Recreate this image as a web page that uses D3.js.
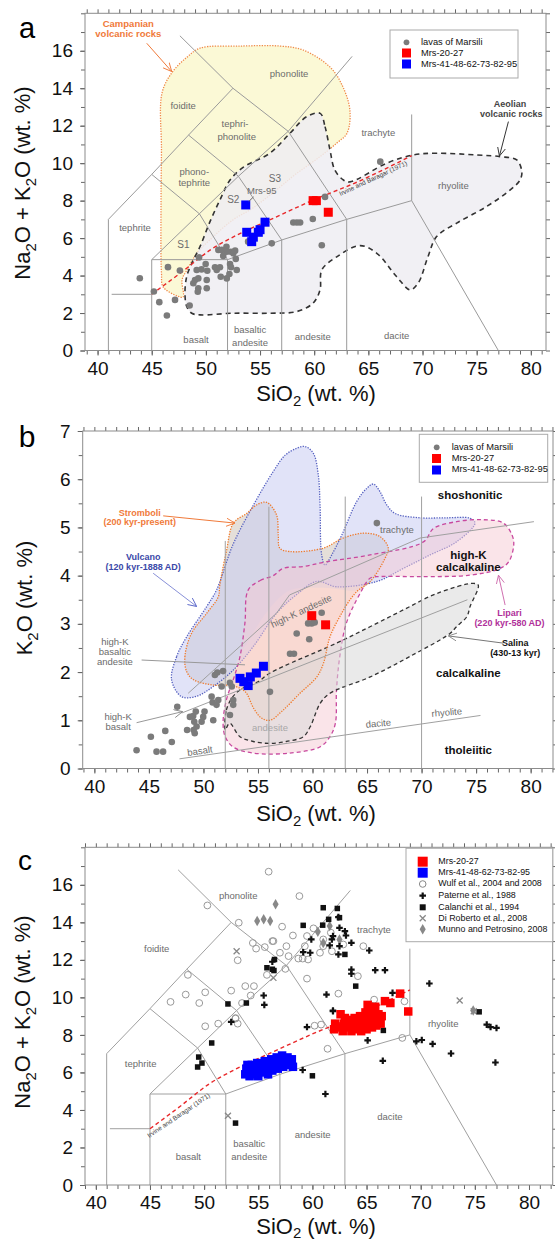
<!DOCTYPE html>
<html><head><meta charset="utf-8">
<script src="https://cdn.jsdelivr.net/npm/d3@7"></script>
<style>body{margin:0;background:#fff}svg{display:block;font-family:"Liberation Sans",Arial,sans-serif}</style>
</head><body>
<script>
// ================= DATA =================
const xTickLabels = [40,45,50,55,60,65,70,75,80];
const yTickLabelsTAS = [0,2,4,6,8,10,12,14,16];
const yTickLabelsK = [0,1,2,3,4,5,6,7];

// ---- Panel a ----
const aMarsili = [[43.9,3.86],[45.2,3.15],[45.7,2.58],[46.4,1.87],[47.15,2.7],[46.5,4.45],[47.6,4.27],[48.5,2.4],
 [49.37,4.97],[49.15,4.3],[49.6,4.33],[49.0,3.76],[49.3,3.85],[48.84,3.59],[49.3,3.32],[49.25,3.14],[50.08,3.32],
 [50.08,3.76],[50.13,4.26],[49.98,4.62],[50.84,4.44],[51.0,4.3],[51.3,4.44],[51.15,5.37],[51.46,5.37],[51.37,3.94],
 [51.9,5.54],[52.3,5.27],[52.53,5.19],[52.7,5.33],[52.76,4.89],[52.23,4.62],[52.32,4.44],[52.85,4.3],[52.17,4.08],
 [51.93,3.85],[51.93,5.27],[51.6,5.05],[53.9,5.81],[56.08,5.72],[58.07,6.83],[58.4,6.83],[58.7,6.83],[59.87,7.02],
 [60.7,5.62],[61.0,8.2],[66.1,10.08]];
const aMrs2027 = [[59.9,8.0],[60.2,8.0],[61.3,7.38]];
const aMrs41 = [[53.68,7.77],[55.46,6.85],[53.77,6.31],[54.84,6.31],[54.38,6.05],[54.23,5.81],[55.0,6.45]];
const campanian = [[45.95,13.74],[46.9,14.86],[48.26,15.66],[49.46,16.14],[53.15,16.25],[56.85,16.25],[58.97,16.04],
 [61.46,15.13],[62.66,14.06],[63.3,12.8],[63.03,11.6],[62.1,11.08],[60.5,10.33],[58.2,9.37],[56.85,8.73],[54.35,7.61],
 [52.5,6.97],[50.66,6.06],[49.2,5.2],[48.26,4.3],[47.8,3.77],[47.9,2.86],[47.4,2.9],[46.05,3.4],[45.9,4.14],[45.86,8.0],[45.9,10.7]];
const aeolian = [[60.55,12.66],[61.0,11.95],[61.46,10.7],[61.9,9.64],[62.7,9.1],[63.3,9.0],[66.7,10.0],[69.15,10.44],
 [71.3,10.53],[75.0,10.44],[77.16,10.35],[78.7,10.17],[79.17,9.55],[79.0,9.1],[78.1,8.57],[75.9,7.68],[73.16,6.8],
 [71.3,6.08],[70.5,5.0],[69.6,3.6],[68.85,3.24],[67.6,3.95],[65.78,5.19],[64.23,5.6],[62.08,5.0],[60.7,4.3],[60.54,3.24],
 [59.9,2.53],[58.4,2.08],[55.9,1.99],[52.5,1.99],[49.46,1.9],[48.7,1.99],[48.23,2.35],[48.07,3.06],[48.23,3.95],
 [48.7,4.66],[49.46,5.55],[50.38,6.88],[51.3,8.04],[52.23,9.1],[53.5,9.8],[55.9,10.53],[57.77,11.6],[59.3,12.48]];
const irvineBaragar = [[45,3.0],[47.8,4.2],[50.5,5.4],[53,6.2],[56,7.0],[60,8.05],[64,9.0],[69,10.4]];
const tasLines = [
 [[41,0],[41,7],[45,9.4],[48.4,11.5],[52.5,14]],
 [[41.3,3],[45,3]],
 [[45,0],[45,4.85],[52,4.85],[52,0]],
 [[52,4.85],[57,5.9],[63,7],[69,8]],
 [[57,0],[57,5.9]],[[63,0],[63,7]],[[69,8],[69,12.6]],[[69,8],[77,0]],
 [[45,4.85],[49.4,7.3],[53,9.3],[57.6,11.7]],
 [[45,9.4],[49.4,7.3],[52,4.85]],
 [[48.4,11.5],[53,9.3],[57,5.9]],
 [[47.6,16.8],[52.5,14],[57.6,11.7],[63,7]],
 [[57.6,11.7],[63.5,15.7]]
];

// ---- Panel b ----
const bMarsili = [[43.87,0.38],[45.18,0.66],[45.7,0.35],[46.3,0.35],[46.5,0.78],[47.1,0.55],[47.6,1.28],[48.5,0.8],
 [48.76,1.07],[49.06,1.09],[49.16,0.97],[49.3,1.18],[49.1,0.8],[49.2,0.73],[49.37,0.87],[49.83,0.97],[49.98,1.07],
 [50.1,1.18],[50.9,1.0],[50.75,1.49],[50.84,1.37],[51.36,1.42],[51.2,1.32],[51.05,1.94],[51.27,1.99],[51.8,2.02],
 [51.67,1.7],[52.43,1.78],[52.6,1.7],[52.73,1.42],[52.73,1.32],[52.43,1.11],[56.1,1.59],[58.55,2.8],[59.7,2.68],
 [57.94,2.38],[58.3,2.38],[60.84,3.23],[59.6,3.01],[59.93,3.01],[60.2,3.03],[65.9,5.09]];
const bMrs2027 = [[59.93,3.17],[61.2,2.98]];
const bMrs41 = [[53.35,1.87],[53.7,1.8],[54.1,1.72],[54.3,1.9],[54.85,1.98],[55.5,2.12]];
const vulcano = [[47.08,1.84],[47.54,2.32],[48.46,2.73],[50.3,3.36],[51.2,3.7],[52.7,4.64],[54.6,5.47],[56.4,6.16],
 [57.5,6.5],[58.55,6.64],[59.3,6.68],[60.07,6.54],[60.53,6.09],[60.69,5.47],[60.84,4.43],[61.15,4.22],[61.76,4.43],
 [62.68,4.84],[64.06,5.54],[64.97,5.81],[65.58,5.9],[66.19,5.74],[66.8,5.47],[67.57,5.29],[69.86,5.2],[72.3,5.2],
 [74.45,5.19],[74.9,5.09],[73.2,4.7],[70.78,4.43],[68.33,4.15],[65.9,3.88],[62.2,3.77],[60.39,3.88],[58.5,3.6],
 [56.7,3.22],[54.57,2.53],[52.73,2.04],[50.9,1.7],[49.38,1.5],[48.0,1.49]];
const stromboli = [[48.46,2.01],[48.3,2.32],[48.9,2.8],[50.3,3.22],[51.36,3.56],[51.5,3.81],[52.1,4.5],[52.75,5.09],
 [53.96,5.29],[54.9,5.47],[55.8,5.52],[56.7,5.26],[56.86,4.84],[57.0,4.57],[57.9,4.5],[61.0,4.57],[62.8,4.78],
 [64.7,4.88],[66.19,4.81],[66.95,4.57],[66.65,4.36],[65.3,3.88],[64.2,3.7],[63.44,3.5],[62.5,3.15],[61.6,2.73],
 [61.0,2.18],[60.4,1.9],[58.85,1.56],[57.3,1.21],[56.1,1.0],[55.3,1.05],[54.6,1.25],[53.8,1.6],[52.6,1.72],[50.9,1.73],[49.1,1.84]];
const greyField = [[48.46,2.01],[48.3,2.32],[48.9,2.8],[50.3,3.22],[51.36,3.56],[51.5,3.81],[52.1,4.5],[52.75,5.09],
 [53.96,5.29],[54.9,5.47],[55.8,5.52],[56.7,5.26],[56.86,4.84],[57.0,4.57],[57.9,4.5],[61.0,4.57],[62.8,4.78],
 [64.7,4.88],[66.19,4.81],[66.95,4.57],[66.65,4.36],[65.3,3.88],[64.2,3.7],[61,3.75],[58,3.7],[56,3.3],[54,2.6],
 [53,2.2],[52.6,1.72],[50.9,1.73],[49.1,1.84]];
const lipari = [[54.1,3.7],[55.2,3.9],[56.4,4.0],[57.3,4.15],[59.16,4.19],[61.3,4.29],[65.27,4.43],[70.17,4.7],
 [71.1,4.98],[73.2,5.12],[75.67,5.16],[77.5,5.09],[78.3,4.84],[78.45,4.64],[78.0,4.29],[77.2,4.15],[74.45,4.01],
 [69.86,3.98],[66.2,3.98],[65.3,3.95],[64.36,3.63],[63.1,3.01],[62.5,2.32],[62.2,1.63],[62.1,0.94],[61.6,0.66],
 [60.7,0.45],[57.9,0.32],[54.57,0.32],[52.7,0.45],[52.0,0.66],[51.8,0.94],[52.1,1.42],[52.73,1.84],[53.35,2.32],[53.8,3.01]];
const salina = [[52.0,0.8],[52.1,1.21],[52.7,1.49],[53.35,1.63],[55,1.8],[56.1,1.98],[62.2,2.6],[65.27,2.94],
 [68.33,3.29],[71.4,3.63],[74.77,3.84],[75.2,3.8],[74.45,3.36],[74.15,3.15],[73.2,2.94],[72.6,2.8],[68.9,2.32],
 [65.3,1.9],[61.6,1.56],[60.7,1.35],[59.8,0.87],[59.16,0.66],[57.6,0.56],[56.1,0.52],[54.57,0.56],[53.35,0.66],[52.4,0.94]];
const ptVerticals = [[[52,0],[52,4.72]],[[56,0],[56,5.43]],[[63,0],[63,5.64]],[[70,0],[70,5.64]]];
const ptLines = [
 [[47.8,0.2],[75.4,1.1]],
 [[48,1.15],[74.2,3.5]],
 [[48.6,1.56],[56.7,3.22],[57.9,3.6],[69.86,4.78],[80.3,5.12]]
];

// ---- Panel c ----
const cMrs2027 = [[62.0,8.3],[62.1,8.6],[62.4,8.4],[62.6,9.1],[62.8,8.2],[62.9,8.6],[63.2,8.4],[63.3,8.8],[63.6,8.2],
 [63.7,8.5],[63.9,8.9],[64.1,8.3],[64.2,8.6],[64.4,9.0],[64.5,8.2],[64.7,8.5],[64.8,8.8],[64.9,9.2],[65.0,8.3],
 [65.2,8.6],[65.3,9.0],[65.4,9.4],[65.5,8.4],[65.6,8.8],[65.7,9.2],[65.8,9.5],[65.9,8.5],[66.0,8.9],[66.1,9.1],
 [66.3,8.6],[66.4,9.0],[66.7,9.8],[67.2,9.7],[68.1,10.2],[68.85,9.25],[63.0,8.9],[64.0,8.6],[65.1,9.6]];
const cMrs41 = [[53.8,5.9],[53.9,6.2],[54.0,6.4],[54.2,5.8],[54.3,6.1],[54.4,6.4],[54.6,5.9],[54.7,6.2],[54.9,6.5],
 [55.0,5.8],[55.1,6.1],[55.3,6.4],[55.4,6.0],[55.6,6.6],[55.7,6.2],[55.9,5.9],[56.0,6.4],[56.2,6.7],[56.3,6.1],
 [56.5,6.5],[56.7,6.8],[56.8,6.2],[57.0,6.6],[57.2,6.9],[57.3,6.3],[57.5,6.6],[57.7,6.8],[57.9,6.4],[58.1,6.7],[58.2,6.3]];
const cWulf = [[50.3,14.9],[53.2,13.98],[54.5,12.9],[54.8,12.6],[55.6,12.68],[56.3,13.0],[55.96,16.7],[53.1,11.98],
 [48.5,11.2],[55.8,11.2],[52.5,10.36],[53.8,10.6],[54.6,10.6],[54.3,10.1],[50.1,10.27],[48.3,10.15],[46.9,9.76],
 [49.55,9.7],[53.5,9.7],[52.9,8.9],[58.8,15.4],[57.2,13.77],[60.1,13.68],[58.2,13.3],[59.5,13.27],[59.3,12.73],
 [61.0,13.09],[61.7,13.45],[62.85,12.82],[64.7,12.73],[57.6,12.73],[56.4,13.0],[57.8,12.2],[58.7,12.07],[59.1,12.07],
 [59.6,12.02],[60.7,12.38],[61.0,12.73],[61.8,12.46],[59.5,11.0],[64.2,11.13],[62.4,10.2],[65.7,9.88],[68.5,9.79],
 [57.5,11.52],[57.0,12.38],[50.1,8.46],[51.3,8.6],[52.9,8.87],[53.1,8.6],[60.2,8.49],[60.8,8.55],[61.4,7.26],[68.3,7.84]];
const cPaterne = [[55.5,10.1],[55.56,9.6],[56.3,11.9],[62.4,14.28],[62.5,13.71],[63.0,13.53],[63.1,13.3],[61.9,13.27],
 [61.8,13.09],[59.9,13.09],[59.15,12.41],[59.8,12.38],[61.6,12.77],[62.5,12.73],[63.6,12.91],[62.4,12.29],[65.25,12.5],
 [63.6,11.48],[63.6,11.26],[65.8,11.45],[66.7,11.45],[70.8,10.74],[61.3,10.15],[61.9,9.3],[67.4,10.24],[52.5,8.69],
 [59.5,8.42],[65.1,7.71],[66.5,6.62],[59.1,6.13],[61.2,4.85],[69.6,7.66],[70.1,7.73],[71.1,7.52],[72.8,7.01],
 [76.1,8.55],[76.45,8.42],[77.0,8.37],[76.9,6.53],[61.9,9.26]];
const cCalanchi = [[56.5,12.02],[55.8,11.58],[56.3,11.5],[52.2,9.65],[53.9,9.7],[61.0,14.78],[62.3,14.74],[59.15,13.84],
 [60.95,13.85],[61.5,14.16],[62.5,14.25],[56.45,11.43],[63.0,12.29],[64.0,10.6],[75.4,9.23],[50.7,7.57],[49.5,6.82],
 [49.8,6.5],[49.4,6.29],[52.9,3.3],[66.55,8.24],[60.0,5.82]];
const cDiRoberto = [[53.0,12.46],[56.4,11.04],[73.6,9.83],[74.9,9.26],[52.2,3.69]];
const cMunno = [[56.6,14.96],[54.9,14.07],[55.5,14.16],[56.1,14.07],[61.6,13.8],[62.5,13.09],[74.85,9.3],[61.0,12.9],[60.5,13.5]];

// ================= DRAW =================
const svg = d3.select("body").append("svg").attr("width",555).attr("height",1243);
const defs = svg.append("defs");
function mk(id,col){defs.append("marker").attr("id",id).attr("viewBox","0 0 10 10").attr("refX",9.5).attr("refY",5)
 .attr("markerWidth",9).attr("markerHeight",9).attr("orient","auto").append("path").attr("d","M0,0.5 L9.5,5 L0,9.5")
 .attr("fill","none").attr("stroke",col).attr("stroke-width",1);}
mk("arO","#f07a3a");mk("arK","#333");mk("arB","#5a66c8");mk("arP","#d070b0");mk("arG","#888");

const pA = {x:d3.scaleLinear().domain([38.84,81.4]).range([85,546]), y:d3.scaleLinear().domain([0,18]).range([350.5,13.3])};
const pB = {x:d3.scaleLinear().domain([38.93,82.05]).range([82.7,553]), y:d3.scaleLinear().domain([0,7]).range([768.5,431])};
const pC = {x:d3.scaleLinear().domain([39.0,82.19]).range([85,552.7]), y:d3.scaleLinear().domain([0,18]).range([1185,847.3])};

function axes(p, yMajor, yMinorStep){
 const g = svg.append("g");
 const [x0,x1]=p.x.range(), [y0,y1]=p.y.range();
 const xMin=d3.range(39,83,1).filter(v=>v>=p.x.domain()[0]&&v<=p.x.domain()[1]);
 const yd=p.y.domain(); const yMin=d3.range(yd[0],yd[1]+1e-9,yMinorStep);
 const st=s=>{s.select(".domain").remove();s.selectAll("line").attr("stroke","#666");s.selectAll("text").attr("fill","#111").style("font-size","19px").style("font-family","Liberation Sans, Arial, sans-serif");};
 g.append("g").attr("transform",`translate(0,${y0})`).call(d3.axisBottom(p.x).tickValues(xMin).tickSize(4).tickFormat("")).call(st);
 g.append("g").attr("transform",`translate(0,${y1})`).call(d3.axisTop(p.x).tickValues(xMin).tickSize(4).tickFormat("")).call(st);
 g.append("g").attr("transform",`translate(${x0},0)`).call(d3.axisLeft(p.y).tickValues(yMin).tickSize(4).tickFormat("")).call(st);
 g.append("g").attr("transform",`translate(${x1},0)`).call(d3.axisRight(p.y).tickValues(yMin).tickSize(4).tickFormat("")).call(st);
 g.append("g").attr("transform",`translate(0,${y0})`).call(d3.axisBottom(p.x).tickValues(xTickLabels).tickSize(5).tickPadding(6).tickFormat(d3.format("d"))).call(st);
 g.append("g").attr("transform",`translate(${x0},0)`).call(d3.axisLeft(p.y).tickValues(yMajor).tickSize(5).tickPadding(7).tickFormat(d3.format("d"))).call(st);
 svg.append("rect").attr("x",x0).attr("y",y1).attr("width",x1-x0).attr("height",y0-y1).attr("fill","none").attr("stroke","#8c8c8c").attr("stroke-width",1);
}
function clip(id,p){const [x0,x1]=p.x.range(),[y0,y1]=p.y.range();defs.append("clipPath").attr("id",id).append("rect").attr("x",x0).attr("y",y1).attr("width",x1-x0).attr("height",y0-y1);}
function L(p,curve){return d3.line().x(d=>p.x(d[0])).y(d=>p.y(d[1])).curve(curve||d3.curveLinear);}
function txt(g,p,v,t,s,o){const e=g.append("text").attr("x",p.x(v)).attr("y",p.y(t)).attr("text-anchor",(o&&o.anchor)||"middle")
 .attr("dominant-baseline","middle").style("font-size",((o&&o.size)||9)+"px").attr("fill",(o&&o.fill)||"#6c6c6c")
 .style("font-weight",(o&&o.bold)?"bold":"normal").text(s);
 if(o&&o.rot) e.attr("transform",`rotate(${o.rot},${p.x(v)},${p.y(t)})`); return e;}
function arrow(g,p,a,b,m,col){g.append("line").attr("x1",p.x(a[0])).attr("y1",p.y(a[1])).attr("x2",p.x(b[0])).attr("y2",p.y(b[1]))
 .attr("stroke",col).attr("stroke-width",1).attr("marker-end",m?`url(#${m})`:null);}
function sq(g,p,data,col,size){g.selectAll(null).data(data).enter().append("rect").attr("x",d=>p.x(d[0])-size/2).attr("y",d=>p.y(d[1])-size/2)
 .attr("width",size).attr("height",size).attr("fill",col);}
function circ(g,p,data,r){g.selectAll(null).data(data).enter().append("circle").attr("cx",d=>p.x(d[0])).attr("cy",d=>p.y(d[1])).attr("r",r).attr("fill","#7b7b7b");}
function rich(x,y,parts,size,rot,subShift){const t=svg.append("text").attr("x",x).attr("y",y).attr("text-anchor","middle").style("font-size",size+"px").attr("fill","#111");
 if(rot) t.attr("transform",`rotate(${rot},${x},${y})`);
 const sh=subShift||size*0.28;
 let sub=false; parts.forEach(pt=>{const s=t.append("tspan").text(pt[0]);
  if(pt[1]){s.style("font-size",(size*0.68)+"px").attr("dy",sh);sub=true;}
  else if(sub){s.attr("dy",-sh);sub=false;}});}
const NaK=[["Na"],["2",1],["O + K"],["2",1],["O (wt. %)"]];
const SiO=[["SiO"],["2",1],[" (wt. %)"]];

// ===== Panel a =====
clip("cA",pA);
{const g=svg.append("g").attr("clip-path","url(#cA)");
 g.append("path").attr("d",L(pA,d3.curveCatmullRomClosed.alpha(0.5))(campanian)).attr("fill","#fbf9d6").attr("stroke","#f08a4a").attr("stroke-width",1.3).attr("stroke-dasharray","1.3,1.3");
 g.append("path").attr("d",L(pA,d3.curveCatmullRomClosed.alpha(0.5))(aeolian)).attr("fill","#eeedf2").attr("fill-opacity",0.85).attr("stroke","#333").attr("stroke-width",1.6).attr("stroke-dasharray","5,4");
 tasLines.forEach(l=>g.append("path").attr("d",L(pA)(l)).attr("fill","none").attr("stroke","#9a9a9a").attr("stroke-width",1));
 g.append("path").attr("d",L(pA,d3.curveMonotoneX)(irvineBaragar)).attr("fill","none").attr("stroke","#e8282a").attr("stroke-width",1.4).attr("stroke-dasharray","4,3");
 circ(g,pA,aMarsili,3.3);
 sq(g,pA,aMrs2027,"#ff0000",9); sq(g,pA,aMrs41,"#0000ff",9);
 const lab=[["foidite",47.9,13.05],["phonolite",57.68,14.71],["tephri-",52.69,12.04],["phonolite",52.85,11.38],["phono-",48.93,9.49],
  ["tephrite",48.93,8.93],["tephrite",43.46,6.52],["S1",47.92,5.63],["S2",52.53,8.04],["S3",56.38,9.16],["Mrs-95",55.16,8.48],
  ["trachyte",65.92,11.6],["rhyolite",72.85,8.78],["basalt",49.09,0.56],["basaltic",54.08,1.06],["andesite",54.08,0.35],
  ["andesite",59.87,0.7],["dacite",67.62,0.74]];
 lab.forEach(d=>txt(g,pA,d[1],d[2],d[0],{size:d[0].length<3?10:9.5}));
 arrow(g,pA,[54.4,8.2],[53.95,7.95],null,"#666");
 txt(g,pA,65.46,9.16,"Irvine and Baragar (1971)",{size:6.5,fill:"#444",rot:-25});
 arrow(g,pA,[77.93,12.22],[77.1,10.38],"arK","#333");
}
txt(svg,pA,42.84,17.38,"Campanian",{size:9.5,bold:1,fill:"#f07a3a"});
txt(svg,pA,42.84,16.87,"volcanic rocks",{size:9.5,bold:1,fill:"#f07a3a"});
arrow(svg,pA,[44.54,16.4],[46.85,14.89],"arO","#f07a3a");
txt(svg,pA,78.08,13.1,"Aeolian",{size:9,bold:1,fill:"#444"});
txt(svg,pA,78.2,12.57,"volcanic rocks",{size:9,bold:1,fill:"#444"});
axes(pA,yTickLabelsTAS,1);
{const g=svg.append("g");g.append("rect").attr("x",390).attr("y",30).attr("width",128).attr("height",48).attr("fill","#fff").attr("stroke","#aaa");
 g.append("circle").attr("cx",406.5).attr("cy",42.3).attr("r",2.9).attr("fill","#7b7b7b");
 g.append("rect").attr("x",402).attr("y",48.5).attr("width",9).attr("height",9).attr("fill","#ff0000");
 g.append("rect").attr("x",402).attr("y",59.5).attr("width",9).attr("height",9).attr("fill","#0000ff");
 [["lavas of Marsili",42.3],["Mrs-20-27",53.3],["Mrs-41-48-62-73-82-95",64.3]].forEach(d=>g.append("text").attr("x",421).attr("y",d[1]).attr("dominant-baseline","middle").style("font-size","9.3px").attr("fill","#111").text(d[0]));}
svg.append("text").attr("x",27).attr("y",38).attr("text-anchor","middle").style("font-size","29px").text("a");
rich(316,401,SiO,22,0,5);
rich(30,183,NaK,22,-90);

// ===== Panel b =====
clip("cB",pB);
{const g=svg.append("g").attr("clip-path","url(#cB)");
 const C=L(pB,d3.curveCatmullRomClosed.alpha(0.5));
 g.append("path").attr("d",C(stromboli)).attr("fill","#fde2c4").attr("fill-opacity",0.8);
 g.append("path").attr("d",C(greyField)).attr("fill","#dcdcdc").attr("fill-opacity",0.75);
 g.append("path").attr("d",C(vulcano)).attr("fill","#c8ccf2").attr("fill-opacity",0.55).attr("stroke","#5560c0").attr("stroke-width",1.3).attr("stroke-dasharray","1.3,1.3");
 g.append("path").attr("d",C(lipari)).attr("fill","#f6c9d4").attr("fill-opacity",0.5).attr("stroke","#c8489e").attr("stroke-width",1.3).attr("stroke-dasharray","4,3");
 g.append("path").attr("d",C(salina)).attr("fill","#d8d8d8").attr("fill-opacity",0.55).attr("stroke","#333").attr("stroke-width",1.3).attr("stroke-dasharray","4,3");
 g.append("path").attr("d",C(stromboli)).attr("fill","none").attr("stroke","#f07a2a").attr("stroke-width",1.3).attr("stroke-dasharray","1.3,1.3");
 ptVerticals.concat(ptLines).forEach(l=>g.append("path").attr("d",L(pB)(l)).attr("fill","none").attr("stroke","#a0a0a0").attr("stroke-width",1));
 circ(g,pB,bMarsili,3.3);
 sq(g,pB,bMrs2027,"#ff0000",9); sq(g,pB,bMrs41,"#0000ff",9);
 txt(g,pB,44.17,5.29,"Stromboli",{size:9,bold:1,fill:"#f07a3a"});
 txt(g,pB,44.17,5.09,"(200 kyr-present)",{size:9,bold:1,fill:"#f07a3a"});
 arrow(g,pB,[46.31,5.24],[52.89,5.09],"arO","#f07a3a");
 txt(g,pB,44.48,4.37,"Vulcano",{size:9,bold:1,fill:"#3a48a8"});
 txt(g,pB,44.48,4.17,"(120 kyr-1888 AD)",{size:9,bold:1,fill:"#3a48a8"});
 arrow(g,pB,[45.39,4.05],[49.38,3.36],"arB","#8890d8");
 txt(g,pB,74.45,5.65,"shoshonitic",{size:11.5,bold:1,fill:"#111"});
 txt(g,pB,66.19,4.93,"trachyte",{size:9.5,anchor:"start"});
 txt(g,pB,74.29,4.41,"high-K",{size:11.5,bold:1,fill:"#111"});
 txt(g,pB,74.29,4.15,"calcalkaline",{size:11.5,bold:1,fill:"#111"});
 txt(g,pB,78.06,3.22,"Lipari",{size:9,bold:1,fill:"#b0309a"});
 txt(g,pB,78.06,3.01,"(220 kyr-580 AD)",{size:9,bold:1,fill:"#b0309a"});
 arrow(g,pB,[77.66,3.39],[77.05,4.01],"arP","#d070b0");
 txt(g,pB,78.58,2.58,"Salina",{size:9,bold:1,fill:"#111"});
 txt(g,pB,78.58,2.38,"(430-13 kyr)",{size:9,bold:1,fill:"#111"});
 arrow(g,pB,[77.5,2.6],[72.46,2.75],"arG","#777");
 txt(g,pB,74.29,1.96,"calcalkaline",{size:11.5,bold:1,fill:"#111"});
 txt(g,pB,74.29,0.37,"tholeiitic",{size:11.5,bold:1,fill:"#111"});
 txt(g,pB,72.31,1.15,"rhyolite",{size:9.5,rot:-5});
 txt(g,pB,66.04,0.92,"dacite",{size:9.5,rot:-5});
 txt(g,pB,56.1,0.84,"andesite",{size:9.5,fill:"#a8a8a8"});
 txt(g,pB,49.68,0.35,"basalt",{size:9.5,rot:-8});
 txt(g,pB,42.18,1.06,"high-K",{size:9.5});txt(g,pB,42.18,0.85,"basalt",{size:9.5});
 arrow(g,pB,[43.87,0.95],[48.09,1.18],"arG","#999");
 txt(g,pB,41.88,2.61,"high-K",{size:9.5});txt(g,pB,41.88,2.4,"basaltic",{size:9.5});txt(g,pB,41.88,2.19,"andesite",{size:9.5});
 arrow(g,pB,[44.33,2.25],[53.81,2.15],null,"#999");
 txt(g,pB,59.0,3.25,"high-K andesite",{size:9.5,rot:-25});
}
axes(pB,yTickLabelsK,0.5);
{const g=svg.append("g");g.append("rect").attr("x",419.3).attr("y",434.3).attr("width",128.4).attr("height",48).attr("fill","#fff").attr("stroke","#aaa");
 g.append("circle").attr("cx",436.7).attr("cy",447.3).attr("r",2.9).attr("fill","#7b7b7b");
 g.append("rect").attr("x",432).attr("y",454).attr("width",9).attr("height",9).attr("fill","#ff0000");
 g.append("rect").attr("x",432).attr("y",465.5).attr("width",9).attr("height",9).attr("fill","#0000ff");
 [["lavas of Marsili",447.3],["Mrs-20-27",458.3],["Mrs-41-48-62-73-82-95",470]].forEach(d=>g.append("text").attr("x",451.7).attr("y",d[1]).attr("dominant-baseline","middle").style("font-size","9.3px").attr("fill","#111").text(d[0]));}
svg.append("text").attr("x",27).attr("y",447).attr("text-anchor","middle").style("font-size","30px").text("b");
rich(316,821,SiO,22,0,5);
rich(32,598,[["K"],["2",1],["O (wt. %)"]],22,-90);

// ===== Panel c =====
clip("cC",pC);
function plus(g,p,data){g.selectAll(null).data(data).enter().append("path").attr("transform",d=>`translate(${p.x(d[0])},${p.y(d[1])})`).attr("d",d3.symbol(d3.symbolCross,24)).attr("fill","#111");}
function xs(g,p,data){g.selectAll(null).data(data).enter().append("path").attr("transform",d=>`translate(${p.x(d[0])},${p.y(d[1])})`).attr("d","M-3,-3L3,3M-3,3L3,-3").attr("stroke","#888").attr("stroke-width",1.3);}
function dia(g,p,data){g.selectAll(null).data(data).enter().append("path").attr("transform",d=>`translate(${p.x(d[0])},${p.y(d[1])})`).attr("d",d3.symbol(d3.symbolDiamond,32)).attr("fill","#888");}
function oc(g,p,data){g.selectAll(null).data(data).enter().append("circle").attr("cx",d=>p.x(d[0])).attr("cy",d=>p.y(d[1])).attr("r",3.4).attr("fill","none").attr("stroke","#999").attr("stroke-width",1);}
{const g=svg.append("g").attr("clip-path","url(#cC)");
 tasLines.forEach(l=>g.append("path").attr("d",L(pC)(l)).attr("fill","none").attr("stroke","#a0a0a0").attr("stroke-width",1));
 g.append("path").attr("d",L(pC,d3.curveMonotoneX)(irvineBaragar)).attr("fill","none").attr("stroke","#e8282a").attr("stroke-width",1.4).attr("stroke-dasharray","4,3");
 const lab=[["phonolite",53.15,15.4],["foidite",45.62,12.55],["trachyte",65.68,13.58],["tephrite",44.14,6.41],["basalt",48.54,1.48],
  ["basaltic",54.17,2.14],["andesite",54.17,1.48],["andesite",60.02,2.63],["dacite",67.16,3.6],["rhyolite",72.08,8.55]];
 lab.forEach(d=>txt(g,pC,d[1],d[2],d[0],{size:9.5}));
 txt(g,pC,47.68,3.69,"Irvine and Baragar (1971)",{size:6.5,fill:"#444",rot:-34});
 oc(g,pC,cWulf); xs(g,pC,cDiRoberto); dia(g,pC,cMunno); plus(g,pC,cPaterne); sq(g,pC,cCalanchi,"#111",5.5);
 sq(g,pC,cMrs41,"#0000ff",8.5); sq(g,pC,cMrs2027,"#ff0000",8.5);
}
axes(pC,yTickLabelsTAS,1);
{const g=svg.append("g");g.append("rect").attr("x",406).attr("y",848.3).attr("width",146.7).attr("height",93.4).attr("fill","#fff").attr("stroke","#aaa");
 const ys=[861.7,872.7,884,895.7,907.3,918.3,929.3], mx=422.7;
 g.append("rect").attr("x",mx-5).attr("y",ys[0]-5).attr("width",10).attr("height",10).attr("fill","#ff0000");
 g.append("rect").attr("x",mx-5).attr("y",ys[1]-5).attr("width",10).attr("height",10).attr("fill","#0000ff");
 g.append("circle").attr("cx",mx).attr("cy",ys[2]).attr("r",3.3).attr("fill","none").attr("stroke","#888");
 g.append("path").attr("transform",`translate(${mx},${ys[3]})`).attr("d",d3.symbol(d3.symbolCross,24)).attr("fill","#111");
 g.append("rect").attr("x",mx-3).attr("y",ys[4]-3).attr("width",6).attr("height",6).attr("fill","#111");
 g.append("path").attr("transform",`translate(${mx},${ys[5]})`).attr("d","M-3,-3L3,3M-3,3L3,-3").attr("stroke","#888").attr("stroke-width",1.3);
 g.append("path").attr("transform",`translate(${mx},${ys[6]})`).attr("d",d3.symbol(d3.symbolDiamond,32)).attr("fill","#888");
 ["Mrs-20-27","Mrs-41-48-62-73-82-95","Wulf et al., 2004 and 2008","Paterne et al., 1988","Calanchi et al., 1994","Di Roberto et al., 2008","Munno and Petrosino, 2008"]
  .forEach((s,i)=>g.append("text").attr("x",438.3).attr("y",ys[i]).attr("dominant-baseline","middle").style("font-size","8.9px").attr("fill","#111").text(s));}
svg.append("text").attr("x",25).attr("y",870).attr("text-anchor","middle").style("font-size","28px").text("c");
rich(316,1234,SiO,22,0,4);
rich(30,1012,NaK,22,-90);
</script>
</body></html>
